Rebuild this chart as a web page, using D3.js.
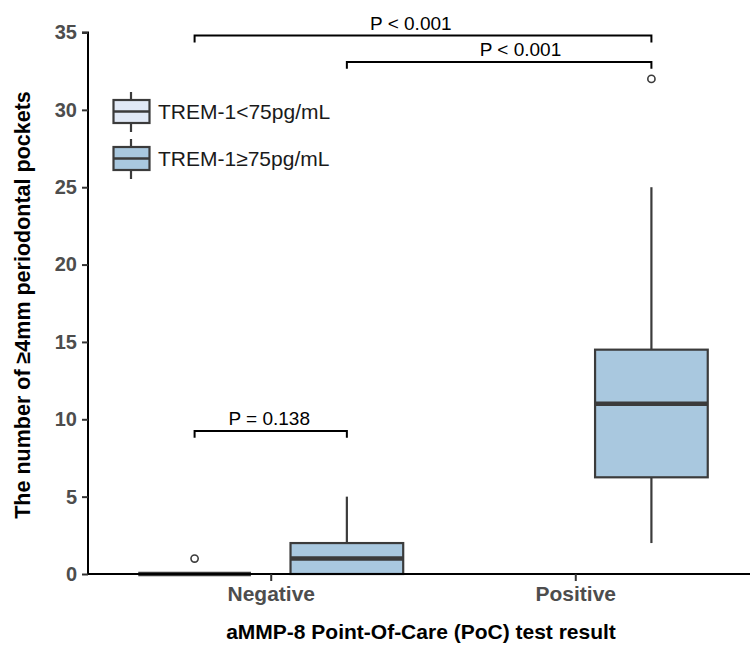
<!DOCTYPE html>
<html>
<head>
<meta charset="utf-8">
<style>
  body { margin: 0; background: white; font-family: "Liberation Sans", Arial, Helvetica, sans-serif; }
  svg text { font-family: "Liberation Sans", Arial, Helvetica, sans-serif; }
</style>
<script src="https://cdn.jsdelivr.net/npm/d3@7"></script>
</head>
<body>
<svg id="chart"></svg>
<script>
// data
let categories = ["Negative", "Positive"]
let groups = ["TREM-1<75pg/mL", "TREM-1\u226575pg/mL"]
let groupColors = ["#e1e9f6", "#a9c8df"]
let yTicks = [0, 5, 10, 15, 20, 25, 30, 35]

// box stats: category, group, lower whisker, q1, median, q3, upper whisker
let boxes = [
  {cat: "Negative", grp: 0, lo: 0, q1: 0, med: 0, q3: 0, hi: 0},
  {cat: "Negative", grp: 1, lo: 0, q1: 0, med: 1, q3: 2, hi: 5},
  {cat: "Positive", grp: 1, lo: 2, q1: 6.25, med: 11, q3: 14.5, hi: 25}
]
let outliers = [
  {cat: "Negative", grp: 0, v: 1},
  {cat: "Positive", grp: 1, v: 32}
]
// brackets: from (cat, grp) to (cat, grp), height, label and where the label sits on x
let brackets = [
  {c1: "Negative", g1: 0, c2: "Positive", g2: 1, y: 34.8, label: "P < 0.001", lx: 1.46},
  {c1: "Negative", g1: 1, c2: "Positive", g2: 1, y: 33.1, label: "P < 0.001", lx: 1.82},
  {c1: "Negative", g1: 0, c2: "Negative", g2: 1, y: 9.25, label: "P = 0.138", lx: 0.995}
]

let width = 750, height = 650
let svg = d3.select("#chart").attr("width", width).attr("height", height)

let x = d3.scaleLinear().domain([0.4, 2.6]).range([88, 758])
let y = d3.scaleLinear().domain([0, 35]).range([574, 32.5])
let dodge = 0.25, boxW = 0.37

function cx(cat, grp) {
  return x(categories.indexOf(cat) + 1 + (grp === 0 ? -dodge : dodge))
}
let bw = x(1 + boxW) - x(1)
let stroke = "#3b3b3b"

// boxes
let g = svg.append("g")
boxes.forEach(b => {
  let c = cx(b.cat, b.grp)
  g.append("line").attr("x1", c).attr("x2", c).attr("y1", y(b.hi)).attr("y2", y(b.q3))
    .attr("stroke", stroke).attr("stroke-width", 2.2)
  g.append("line").attr("x1", c).attr("x2", c).attr("y1", y(b.q1)).attr("y2", y(b.lo))
    .attr("stroke", stroke).attr("stroke-width", 2.2)
  g.append("rect").attr("x", c - bw / 2).attr("width", bw)
    .attr("y", y(b.q3)).attr("height", Math.max(0, y(b.q1) - y(b.q3)))
    .attr("fill", groupColors[b.grp]).attr("stroke", stroke).attr("stroke-width", 2.2)
  g.append("line").attr("x1", c - bw / 2).attr("x2", c + bw / 2)
    .attr("y1", y(b.med)).attr("y2", y(b.med))
    .attr("stroke", stroke).attr("stroke-width", 4.5)
})

g.selectAll("circle.out").data(outliers).enter().append("circle")
  .attr("cx", d => cx(d.cat, d.grp)).attr("cy", d => y(d.v)).attr("r", 3.6)
  .attr("fill", "white").attr("stroke", stroke).attr("stroke-width", 1.6)

// axes
let yAxis = d3.axisLeft(y).tickValues(yTicks).tickSize(6).tickPadding(5)
let ya = svg.append("g").attr("transform", "translate(88,0)").call(yAxis)
ya.select(".domain").attr("stroke", "black").attr("stroke-width", 2).attr("d", "M-6," + y(35) + "H0V" + y(0))
ya.selectAll(".tick line").attr("stroke", "#333").attr("stroke-width", 2)
ya.selectAll(".tick text").attr("fill", "#4d4d4d").attr("font-size", 20).attr("font-weight", "bold")

let xAxis = d3.axisBottom(x).tickValues([1, 2]).tickFormat(d => categories[d - 1]).tickSize(7).tickPadding(5)
let xa = svg.append("g").attr("transform", "translate(0,574)").call(xAxis)
xa.select(".domain").attr("stroke", "black").attr("stroke-width", 2).attr("d", "M88,0H750")
xa.selectAll(".tick line").attr("stroke", "#333").attr("stroke-width", 2)
xa.selectAll(".tick text").attr("fill", "#4d4d4d").attr("font-size", 21).attr("font-weight", "bold")

// axis titles
svg.append("text").attr("x", 421).attr("y", 639).attr("text-anchor", "middle")
  .attr("font-size", 21).attr("font-weight", "bold").attr("fill", "black")
  .text("aMMP-8 Point-Of-Care (PoC) test result")
svg.append("text").attr("transform", "translate(30,305) rotate(-90)").attr("text-anchor", "middle")
  .attr("font-size", 21.5).attr("font-weight", "bold").attr("fill", "black")
  .text("The number of \u22654mm periodontal pockets")

// brackets
brackets.forEach(b => {
  let x1 = cx(b.c1, b.g1), x2 = cx(b.c2, b.g2), yy = y(b.y), tick = y(b.y - 0.45)
  svg.append("path").attr("d", `M${x1},${tick}V${yy}H${x2}V${tick}`)
    .attr("fill", "none").attr("stroke", "black").attr("stroke-width", 2)
  svg.append("text").attr("x", x(b.lx)).attr("y", yy - 6).attr("text-anchor", "middle")
    .attr("font-size", 19).attr("fill", "black").text(b.label)
})

// legend
let leg = svg.append("g").attr("transform", "translate(113,0)")
groups.forEach((name, i) => {
  let cy = 111 + i * 47
  leg.append("line").attr("x1", 18).attr("x2", 18).attr("y1", cy - 19).attr("y2", cy + 21)
    .attr("stroke", stroke).attr("stroke-width", 2.2)
  leg.append("rect").attr("x", 0.5).attr("y", cy - 11).attr("width", 36).attr("height", 23)
    .attr("fill", groupColors[i]).attr("stroke", stroke).attr("stroke-width", 2.2)
  leg.append("line").attr("x1", 0.5).attr("x2", 36.5).attr("y1", cy + 0.5).attr("y2", cy + 0.5)
    .attr("stroke", stroke).attr("stroke-width", 2.5)
  leg.append("text").attr("x", 45).attr("y", cy + 8).attr("font-size", 21).attr("fill", "#1a1a1a").text(name)
})
</script>
</body>
</html>
